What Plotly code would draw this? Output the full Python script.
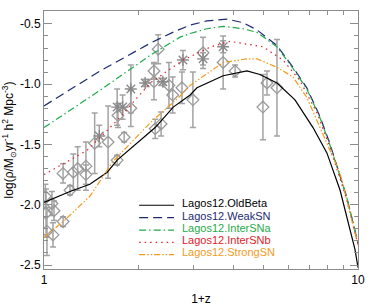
import plotly.graph_objects as go

# ---------------- model curves ----------------
oldbeta_x = [1.0, 1.21, 1.40, 1.59, 1.71, 1.88, 2.05, 2.26, 2.58, 2.92, 3.07, 3.72, 4.43, 4.87, 5.52, 6.30, 7.19, 7.96, 8.77, 9.78, 10.0]
oldbeta_y = [-1.98, -1.89, -1.83, -1.73, -1.63, -1.54, -1.45, -1.36, -1.19, -1.09, -1.03, -0.93, -0.89, -0.92, -0.99, -1.13, -1.36, -1.57, -1.88, -2.37, -2.52]

weak_x = [1.0, 1.51, 2.18, 2.57, 2.92, 3.3, 3.83, 4.3, 4.77, 5.52, 6.21, 6.87, 7.57, 8.13, 9.19, 10.0]
weak_y = [-1.18, -0.89, -0.66, -0.57, -0.51, -0.475, -0.46, -0.49, -0.55, -0.68, -0.86, -1.03, -1.27, -1.49, -1.93, -2.32]

intera_x = [1.0, 1.51, 2.18, 2.71, 2.92, 3.3, 3.72, 4.3, 4.77, 5.52, 6.21, 6.87, 7.57, 8.13, 9.19, 10.0]
intera_y = [-1.36, -1.05, -0.76, -0.61, -0.58, -0.54, -0.52, -0.54, -0.57, -0.69, -0.87, -1.04, -1.28, -1.50, -1.93, -2.31]

interb_x = [1.0, 1.37, 1.71, 2.18, 2.77, 3.4, 3.91, 4.98, 5.77, 6.53, 7.41, 8.13, 9.19, 10.0]
interb_y = [-1.75, -1.55, -1.30, -0.99, -0.80, -0.69, -0.645, -0.69, -0.80, -0.97, -1.24, -1.52, -1.95, -2.33]

strong_x = [1.0, 1.15, 1.40, 1.66, 2.18, 2.71, 2.92, 3.72, 4.43, 4.77, 5.52, 6.21, 6.87, 7.57, 8.77, 10.0]
strong_y = [-2.27, -2.14, -1.93, -1.64, -1.32, -1.10, -1.01, -0.82, -0.79, -0.79, -0.86, -0.94, -1.11, -1.36, -1.74, -2.33]

# ---------------- observations ----------------
diam_x = [1.01, 1.015, 1.06, 1.076, 1.022, 1.068, 1.15, 1.15, 1.21, 1.24, 1.28, 1.36, 1.36, 1.45, 1.60,
          1.71, 1.72, 1.80, 1.89, 2.24, 2.24, 2.26, 2.36, 2.31, 2.50, 2.57, 2.75, 2.98, 3.21, 3.72,
          4.06, 5.13, 4.98, 5.52]
diam_y = [-1.93, -2.07, -1.99, -2.05, -2.22, -2.25, -2.14, -1.74, -1.88, -1.73, -1.70, -1.68, -1.75, -1.49, -1.48,
          -1.63, -1.26, -1.44, -1.20, -0.89, -0.98, -1.37, -1.33, -0.71, -1.01, -1.09, -1.03, -1.13, -0.74, -0.82,
          -0.89, -0.99, -1.19, -1.03]
diam_err = [0.10, 0.20, 0.10, 0.08, 0.20, 0.10, 0.04, 0.08, 0.04, 0.15, 0.18, 0.20, 0.08, 0.25, 0.30,
            0.04, 0.10, 0.04, 0.15, 0.07, 0.15, 0.08, 0.10, 0.12, 0.19, 0.15, 0.13, 0.23, 0.13, 0.22,
            0.05, 0.10, 0.27, 0.40]

ast_x = [1.50, 1.71, 1.78, 1.89, 2.10, 2.39, 2.77, 3.21, 3.72]
ast_y = [-1.43, -1.19, -1.19, -1.04, -0.99, -0.98, -0.80, -0.79, -0.69]
ast_err = [0.09, 0.15, 0.10, 0.20, 0.03, 0.03, 0.08, 0.05, 0.05]

names = ["Lagos12.OldBeta", "Lagos12.WeakSN", "Lagos12.InterSNa", "Lagos12.InterSNb", "Lagos12.StrongSN"]
colors = ["#000000", "#1c2a70", "#1faa4a", "#e0202a", "#f29a1c"]
dashes = ["solid", "9px,5px", "7px,3px,1.5px,3px", "1.5px,4px", "6px,2px,1.5px,2px,1.5px,2px"]
curves = [(oldbeta_x, oldbeta_y), (weak_x, weak_y), (intera_x, intera_y), (interb_x, interb_y), (strong_x, strong_y)]

gray = "#a3a3a3"
fig = go.Figure()

fig.add_trace(go.Scatter(x=diam_x, y=diam_y, mode="markers",
                         marker=dict(symbol="diamond-open", size=9, color="#9a9a9a", line=dict(width=1.3, color="#9a9a9a")),
                         error_y=dict(type="data", array=diam_err, color=gray, thickness=1.5, width=3),
                         showlegend=False))
fig.add_trace(go.Scatter(x=ast_x, y=ast_y, mode="markers",
                         marker=dict(symbol="asterisk-open", size=10, color="#8a8a8a", line=dict(width=1.4, color="#8a8a8a")),
                         error_y=dict(type="data", array=ast_err, color=gray, thickness=1.5, width=3),
                         showlegend=False))

for (cx, cy), n, c, d in zip(curves, names, colors, dashes):
    fig.add_trace(go.Scatter(x=cx, y=cy, mode="lines", name=n,
                             line=dict(color=c, width=1.2, dash=d), showlegend=False))

# manual legend (compact spacing)
leg_rows = [0.255, 0.207, 0.159, 0.111, 0.064]
for yy, n, c, d in zip(leg_rows, names, colors, dashes):
    fig.add_shape(type="line", xref="paper", yref="paper", x0=0.303, x1=0.414, y0=yy - 0.008, y1=yy - 0.008,
                  line=dict(color=c, width=1.2, dash=d))
    fig.add_annotation(xref="paper", yref="paper", x=0.432, y=yy, text=n, showarrow=False,
                       xanchor="left", yanchor="middle", font=dict(size=11, color=c))

axcol = "#8c8c8c"
fig.update_xaxes(type="log", range=[0, 1.0], tickvals=[1, 10], ticktext=["1", "10"], automargin=False,
                 ticks="inside", ticklen=8, tickcolor=axcol, tickwidth=1,
                 showline=True, linecolor=axcol, linewidth=1, mirror="allticks",
                 showgrid=False, zeroline=False,
                 minor=dict(tickvals=[2, 3, 4, 5, 6, 7, 8, 9], ticks="inside", ticklen=4, tickcolor=axcol, showgrid=False),
                 title=dict(text="1+z", font=dict(size=12, color="black"), standoff=8),
                 tickfont=dict(size=12, color="black"))
fig.update_yaxes(range=[-2.533, -0.393], tickvals=[-2.5, -2.0, -1.5, -1.0, -0.5], automargin=False,
                 ticktext=["-2.5", "-2.0", "-1.5", "-1.0", "-0.5"],
                 ticks="inside", ticklen=8, tickcolor=axcol, tickwidth=1,
                 showline=True, linecolor=axcol, linewidth=1, mirror="allticks",
                 showgrid=False, zeroline=False,
                 minor=dict(dtick=0.1, tick0=-2.5, ticks="inside", ticklen=4, tickcolor=axcol, showgrid=False),
                 title=dict(text="log(ρ/M<sub>⊙</sub>yr<sup>-1</sup> h<sup>2</sup> Mpc<sup>-3</sup>)",
                            font=dict(size=12, color="black"), standoff=4),
                 tickfont=dict(size=12, color="black"))

fig.update_layout(width=374, height=307, margin=dict(l=44, r=16, t=11, b=38),
                  plot_bgcolor="white", paper_bgcolor="white",
                  font=dict(family="Liberation Sans, Arial, sans-serif"),
                  showlegend=False)

fig.write_html("out.html", config={"displayModeBar": False},
               post_script="document.body.style.margin='0';")
